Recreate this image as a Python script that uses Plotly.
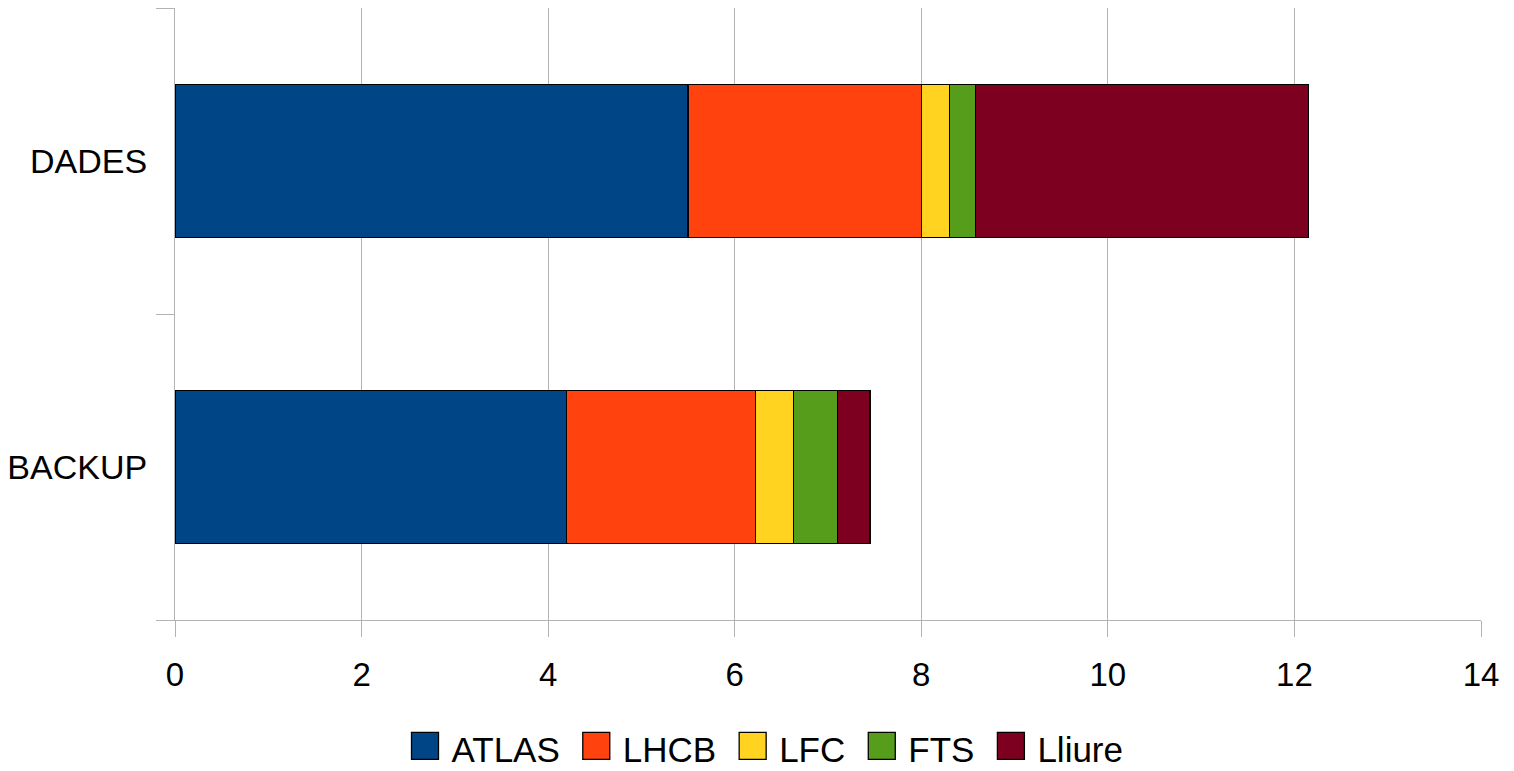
import plotly.graph_objects as go

categories = ["BACKUP", "DADES"]
series_names = ["ATLAS", "LHCB", "LFC", "FTS", "Lliure"]
atlas = [4.2, 5.5]
lhcb = [2.02, 2.5]
lfc = [0.41, 0.3]
fts = [0.47, 0.28]
lliure = [0.35, 3.57]
colors = ["#004586", "#ff420e", "#ffd320", "#579d1c", "#7e0021"]
x_ticks = [0, 2, 4, 6, 8, 10, 12, 14]

values = [atlas, lhcb, lfc, fts, lliure]

fig = go.Figure()
for name, vals, col in zip(series_names, values, colors):
    fig.add_trace(go.Bar(
        y=categories, x=vals, name=name, orientation="h",
        marker=dict(color=col, line=dict(color="black", width=1.3)),
    ))

FONT = "Liberation Sans, Arial, sans-serif"
fig.update_layout(
    barmode="stack",
    bargap=0.5,
    width=1506, height=763,
    margin=dict(l=167, r=33, t=0, b=151),
    plot_bgcolor="white", paper_bgcolor="white",
    font=dict(family=FONT, size=33, color="black"),
    showlegend=True,
    legend=dict(
        orientation="h", xref="container", yref="container",
        x=0.5, xanchor="center", y=0.03, yanchor="middle",
        font=dict(size=35), traceorder="normal",
        itemwidth=48,
    ),
    xaxis=dict(
        range=[0, 14], tickvals=x_ticks, showgrid=True, gridcolor="#b3b3b3",
        gridwidth=1, zeroline=False, showline=True, linecolor="#b3b3b3",
        ticks="outside", ticklen=16, tickcolor="#b3b3b3",
        tickfont=dict(size=33), ticklabelstandoff=9,
    ),
    yaxis=dict(
        categoryorder="array", categoryarray=categories,
        range=[-0.5, 1.5], showgrid=False, zeroline=False, showline=True,
        linecolor="#b3b3b3", ticks="outside", ticklen=18, tickcolor="#b3b3b3",
        tickson="boundaries", tickfont=dict(size=34), ticklabelstandoff=20,
    ),
)

post = """
var gd = document.getElementById('{plot_id}');
function bigSymbols(){
  gd.querySelectorAll('.legend path.legendbar, .legend .legendpoints path').forEach(function(p){
    p.setAttribute('d','M16,11.5H-11V-15.5H16Z');
  });
}
bigSymbols();
gd.on('plotly_afterplot', bigSymbols);
setTimeout(bigSymbols, 50);
"""

fig.write_html("out.html", post_script=post)
